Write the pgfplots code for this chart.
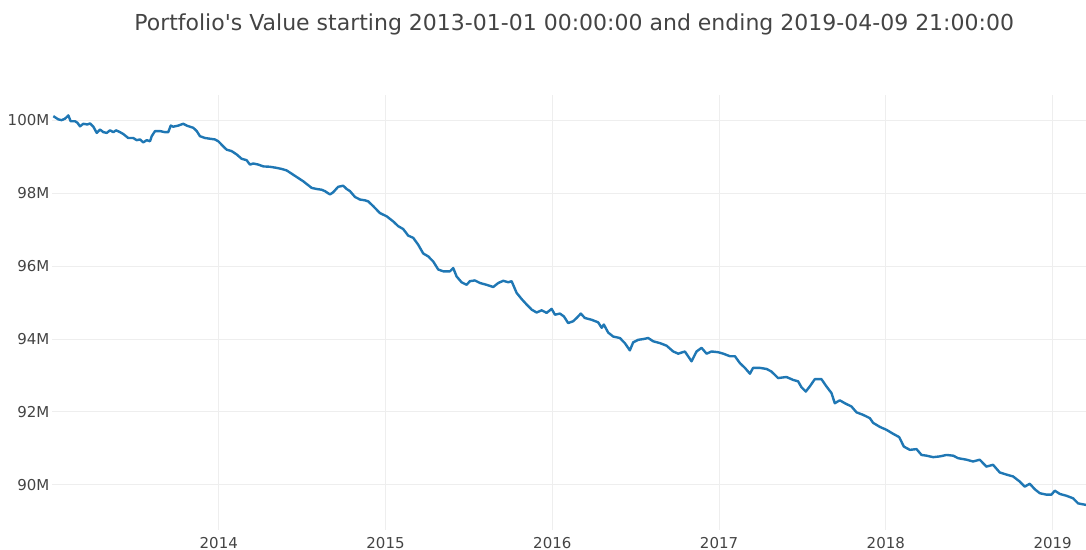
\documentclass[border=0pt]{standalone}
\usepackage{fontspec}
\setmainfont{DejaVu Sans}
\newfontfamily\titlefont{DejaVu Sans}
\usepackage{pgfplots}
\pgfplotsset{compat=1.18}
\definecolor{plotlyblue}{HTML}{1F77B4}
\definecolor{ticktext}{HTML}{444444}
\definecolor{gridgray}{HTML}{EEEEEE}

\pgfplotstableread{
year value
2013.008 100.12
2013.038 100.03
2013.058 100.01
2013.078 100.05
2013.098 100.14
2013.112 99.98
2013.138 99.98
2013.152 99.94
2013.168 99.84
2013.188 99.91
2013.212 99.89
2013.228 99.92
2013.248 99.83
2013.268 99.66
2013.288 99.75
2013.308 99.68
2013.328 99.66
2013.348 99.73
2013.368 99.68
2013.384 99.73
2013.408 99.68
2013.427 99.63
2013.457 99.52
2013.487 99.52
2013.508 99.46
2013.528 99.48
2013.547 99.40
2013.568 99.46
2013.588 99.43
2013.598 99.57
2013.618 99.71
2013.647 99.71
2013.677 99.68
2013.697 99.68
2013.712 99.86
2013.727 99.83
2013.757 99.86
2013.787 99.91
2013.808 99.86
2013.827 99.83
2013.847 99.80
2013.868 99.71
2013.887 99.57
2013.917 99.52
2013.947 99.50
2013.977 99.48
2013.997 99.43
2014.027 99.29
2014.047 99.20
2014.077 99.16
2014.107 99.07
2014.137 98.95
2014.167 98.91
2014.187 98.79
2014.207 98.82
2014.237 98.79
2014.267 98.74
2014.307 98.73
2014.347 98.70
2014.377 98.67
2014.407 98.63
2014.437 98.54
2014.467 98.45
2014.507 98.33
2014.557 98.15
2014.587 98.12
2014.617 98.10
2014.637 98.06
2014.667 97.97
2014.686 98.03
2014.716 98.18
2014.746 98.21
2014.767 98.12
2014.787 98.06
2014.817 97.90
2014.847 97.83
2014.876 97.81
2014.896 97.78
2014.926 97.65
2014.966 97.46
2015.007 97.37
2015.046 97.23
2015.076 97.10
2015.106 97.02
2015.136 96.84
2015.166 96.78
2015.196 96.59
2015.226 96.35
2015.256 96.27
2015.286 96.13
2015.316 95.91
2015.346 95.86
2015.386 95.86
2015.406 95.95
2015.426 95.72
2015.456 95.56
2015.486 95.49
2015.506 95.59
2015.536 95.61
2015.566 95.54
2015.606 95.49
2015.646 95.43
2015.676 95.54
2015.706 95.60
2015.736 95.56
2015.756 95.59
2015.786 95.27
2015.816 95.10
2015.846 94.95
2015.876 94.81
2015.906 94.73
2015.936 94.79
2015.966 94.72
2015.996 94.83
2016.016 94.67
2016.046 94.70
2016.070 94.62
2016.095 94.44
2016.125 94.49
2016.146 94.58
2016.171 94.70
2016.195 94.58
2016.236 94.53
2016.275 94.46
2016.296 94.31
2016.309 94.40
2016.335 94.18
2016.365 94.07
2016.405 94.03
2016.435 93.89
2016.465 93.69
2016.485 93.91
2016.515 93.98
2016.545 94.00
2016.575 94.03
2016.605 93.94
2016.645 93.89
2016.685 93.82
2016.725 93.66
2016.755 93.60
2016.795 93.66
2016.835 93.39
2016.865 93.66
2016.895 93.76
2016.925 93.60
2016.955 93.66
2016.995 93.64
2017.025 93.60
2017.065 93.53
2017.095 93.53
2017.125 93.34
2017.155 93.21
2017.185 93.05
2017.204 93.21
2017.245 93.21
2017.285 93.18
2017.314 93.11
2017.354 92.93
2017.404 92.96
2017.444 92.88
2017.474 92.84
2017.494 92.68
2017.520 92.56
2017.544 92.70
2017.574 92.90
2017.614 92.90
2017.644 92.70
2017.674 92.52
2017.694 92.24
2017.724 92.32
2017.754 92.24
2017.794 92.15
2017.824 91.99
2017.864 91.92
2017.904 91.83
2017.924 91.70
2017.964 91.59
2018.004 91.51
2018.044 91.40
2018.080 91.31
2018.108 91.05
2018.144 90.96
2018.184 90.98
2018.214 90.82
2018.244 90.80
2018.284 90.76
2018.324 90.78
2018.364 90.82
2018.404 90.80
2018.434 90.73
2018.484 90.69
2018.523 90.64
2018.563 90.69
2018.603 90.50
2018.643 90.55
2018.683 90.34
2018.724 90.28
2018.763 90.23
2018.803 90.09
2018.833 89.95
2018.863 90.03
2018.893 89.88
2018.923 89.77
2018.963 89.73
2018.993 89.73
2019.013 89.84
2019.043 89.75
2019.083 89.70
2019.123 89.63
2019.153 89.49
2019.199 89.45
2019.270 89.40
}\portfolio

\begin{document}
\begin{tikzpicture}
\useasboundingbox (0,0) rectangle (1086bp,550bp);
\node[anchor=base, text=ticktext, inner sep=0pt, font=\titlefont\fontsize{22bp}{26bp}\selectfont]
  at (574.2bp,519.5bp) {Portfolio's Value starting 2013-01-01 00:00:00 and ending 2019-04-09 21:00:00};
\begin{axis}[
    at={(52bp,20bp)}, anchor=south west,
    scale only axis,
    width=1034bp, height=435bp,
    xmin=2013.0, xmax=2019.2,
    ymin=88.76, ymax=100.7,
    xtick={2014,2015,2016,2017,2018,2019},
    xticklabels={2014,2015,2016,2017,2018,2019},
    ytick={90,92,94,96,98,100},
    yticklabels={90M,92M,94M,96M,98M,100M},
    axis line style={draw=none},
    major tick length=0pt,
    grid=major,
    major grid style={draw=gridgray, line width=1bp},
    ticklabel style={text=ticktext, font=\fontsize{15bp}{18bp}\selectfont, inner sep=0pt},
    xticklabel style={anchor=base, yshift=-18bp},
    yticklabel style={anchor=east, xshift=-2.5bp},
]
\addplot[color=plotlyblue, line width=2.4bp, line join=round] table[x=year, y=value] {\portfolio};
\end{axis}
\end{tikzpicture}
\end{document}
